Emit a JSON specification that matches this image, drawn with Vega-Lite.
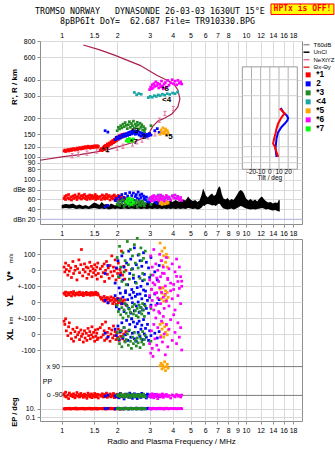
{
"$schema":"https://vega.github.io/schema/vega-lite/v6.json",
"background":"#ffffff",
"padding":{"left":5,"top":2,"right":0,"bottom":2},
"config":{
 "font":"Liberation Sans",
 "view":{"stroke":"#8c8c8c","strokeWidth":1},
 "axis":{"labelFont":"Liberation Sans","labelFontSize":7,"labelColor":"#000000","gridColor":"#dadada","gridWidth":1,"domain":false,"tickColor":"#8c8c8c","tickSize":3,"labelPadding":2,"titleFont":"Liberation Sans","titleColor":"#000000","labelOverlap":false,"labelFlush":false,"labelBound":false},
 "legend":{"labelFont":"Liberation Sans","labelColor":"#000000"},
 "square":{"size":7.5,"opacity":1}
},
"datasets":{
"prof":[{"f":0.763,"h":94},{"f":1.0,"h":100},{"f":1.257,"h":104},{"f":1.516,"h":109},{"f":1.829,"h":115},{"f":2.125,"h":122},{"f":2.5,"h":131},{"f":2.83,"h":143},{"f":3.0,"h":156},{"f":3.13,"h":174},{"f":3.33,"h":190},{"f":3.63,"h":201},{"f":3.96,"h":216},{"f":4.27,"h":245},{"f":4.38,"h":283},{"f":4.27,"h":333},{"f":4.12,"h":360},{"f":3.9,"h":384},{"f":3.28,"h":433},{"f":2.66,"h":518},{"f":1.95,"h":620},{"f":1.61,"h":684},{"f":1.31,"h":746}],
"nxt":[{"n":"NeXtYZ","f":1.14,"h":102},{"n":"NeXtYZ","f":1.23,"h":105},{"n":"NeXtYZ","f":1.37,"h":107},{"n":"NeXtYZ","f":1.55,"h":111},{"n":"NeXtYZ","f":1.78,"h":113},{"n":"NeXtYZ","f":2.0,"h":117},{"n":"NeXtYZ","f":2.15,"h":121},{"n":"NeXtYZ","f":2.42,"h":126},{"n":"NeXtYZ","f":2.56,"h":131},{"n":"NeXtYZ","f":2.73,"h":135},{"n":"NeXtYZ","f":2.94,"h":143},{"n":"NeXtYZ","f":3.21,"h":151},{"n":"NeXtYZ","f":3.39,"h":193},{"n":"NeXtYZ","f":3.63,"h":218},{"n":"NeXtYZ","f":4.03,"h":238}],
"tx":[{"t":9.1,"h":100},{"t":7.3,"h":109},{"t":5.5,"h":120},{"t":3.6,"h":127},{"t":4.7,"h":139},{"t":6.2,"h":152},{"t":7.3,"h":166},{"t":9.1,"h":182},{"t":12.0,"h":199},{"t":14.5,"h":211},{"t":16.4,"h":217},{"t":12.8,"h":231},{"t":10.9,"h":238}],
"ty":[{"t":7.3,"h":100},{"t":6.2,"h":116},{"t":7.3,"h":139},{"t":9.1,"h":156},{"t":12.8,"h":171},{"t":16.4,"h":182},{"t":19.3,"h":193},{"t":20.0,"h":201},{"t":18.3,"h":211},{"t":14.5,"h":224},{"t":12.8,"h":235},{"t":12.0,"h":241}],
"lab":[{"t":"*1","f":1.65,"h":114},{"t":"2","f":2.73,"h":143},{"t":"*3","f":2.38,"h":158},{"t":"<4","f":3.5,"h":280},{"t":"*5","f":3.64,"h":142},{"t":"*6","f":3.48,"h":337},{"t":"*7","f":2.35,"h":130}],
"head":[{"t":"TROMSO NORWAY\u00a0\u00a0\u00a0DYNASONDE 26-03-03 1630UT 15°E","f":3.013,"h":1339},{"t":"8pBP6It DoY=\u00a0\u00a062.687 File= TR910330.BPG","f":3.31,"h":1133}],
"hpbox":[{"f":13.66,"f2":30,"h":1292,"h2":1560}],
"hptxt":[{"t":"HPTx is OFF!","f":20.26,"h":1418}],
"side1":[{"t":"V*","f":0.524,"v":-36},{"t":"YL","f":0.524,"v":-192},{"t":"XL","f":0.524,"v":-401}],
"side2":[{"t":"m/s","f":0.534,"v":74},{"t":"km","f":0.534,"v":-314}],
"side3":[{"t":"EP / deg","f":0.558,"v":-886}],
"ppl":[{"t":"x 90","f":0.829,"pp":90},{"t":"o -90","f":0.829,"pp":-90},{"t":"PP","f":0.789,"pp":-6}],
"pprule":[{"f":1.0,"f2":20.13,"pp":90},{"f":1.0,"f2":20.13,"pp":-90}],
"band":[{"f":1.0,"lo":42,"hi":49},{"f":1.05,"lo":43,"hi":51},{"f":1.1,"lo":42,"hi":50},{"f":1.15,"lo":43,"hi":52},{"f":1.2,"lo":41,"hi":48},{"f":1.25,"lo":42,"hi":50},{"f":1.3,"lo":41,"hi":47},{"f":1.35,"lo":42,"hi":49},{"f":1.4,"lo":41,"hi":46},{"f":1.45,"lo":42,"hi":50},{"f":1.5,"lo":43,"hi":54},{"f":1.55,"lo":42,"hi":52},{"f":1.6,"lo":41,"hi":49},{"f":1.65,"lo":42,"hi":55},{"f":1.7,"lo":41,"hi":50},{"f":1.75,"lo":42,"hi":51},{"f":1.8,"lo":40,"hi":47},{"f":1.85,"lo":41,"hi":52},{"f":1.9,"lo":42,"hi":50},{"f":1.95,"lo":41,"hi":48},{"f":2.0,"lo":42,"hi":51},{"f":2.1,"lo":41,"hi":53},{"f":2.2,"lo":42,"hi":50},{"f":2.3,"lo":41,"hi":52},{"f":2.4,"lo":42,"hi":55},{"f":2.5,"lo":41,"hi":50},{"f":2.6,"lo":42,"hi":53},{"f":2.7,"lo":41,"hi":56},{"f":2.8,"lo":42,"hi":52},{"f":2.9,"lo":41,"hi":54},{"f":3.0,"lo":42,"hi":56},{"f":3.1,"lo":41,"hi":52},{"f":3.2,"lo":42,"hi":55},{"f":3.3,"lo":41,"hi":58},{"f":3.4,"lo":42,"hi":54},{"f":3.5,"lo":41,"hi":57},{"f":3.6,"lo":42,"hi":55},{"f":3.7,"lo":41,"hi":59},{"f":3.8,"lo":42,"hi":56},{"f":3.9,"lo":41,"hi":58},{"f":4.0,"lo":42,"hi":55},{"f":4.15,"lo":41,"hi":59},{"f":4.3,"lo":42,"hi":56},{"f":4.4,"lo":41,"hi":56},{"f":4.55,"lo":42,"hi":60},{"f":4.7,"lo":41,"hi":58},{"f":4.85,"lo":43,"hi":66},{"f":5.0,"lo":42,"hi":60},{"f":5.15,"lo":41,"hi":57},{"f":5.3,"lo":42,"hi":59},{"f":5.45,"lo":40,"hi":55},{"f":5.6,"lo":41,"hi":58},{"f":5.75,"lo":44,"hi":70},{"f":5.85,"lo":48,"hi":82},{"f":5.95,"lo":47,"hi":76},{"f":6.06,"lo":50,"hi":68},{"f":6.2,"lo":51,"hi":64},{"f":6.38,"lo":50,"hi":69},{"f":6.55,"lo":48,"hi":72},{"f":6.7,"lo":49,"hi":67},{"f":6.86,"lo":47,"hi":70},{"f":7.0,"lo":50,"hi":80},{"f":7.15,"lo":52,"hi":87},{"f":7.25,"lo":50,"hi":84},{"f":7.4,"lo":45,"hi":70},{"f":7.55,"lo":42,"hi":62},{"f":7.75,"lo":41,"hi":60},{"f":7.95,"lo":40,"hi":63},{"f":8.15,"lo":41,"hi":58},{"f":8.35,"lo":42,"hi":61},{"f":8.55,"lo":40,"hi":59},{"f":8.75,"lo":41,"hi":64},{"f":8.95,"lo":43,"hi":70},{"f":9.15,"lo":45,"hi":76},{"f":9.35,"lo":47,"hi":79},{"f":9.55,"lo":46,"hi":77},{"f":9.75,"lo":44,"hi":72},{"f":10.0,"lo":42,"hi":62},{"f":10.3,"lo":41,"hi":58},{"f":10.6,"lo":40,"hi":61},{"f":10.9,"lo":41,"hi":57},{"f":11.2,"lo":40,"hi":60},{"f":11.5,"lo":41,"hi":56},{"f":11.9,"lo":42,"hi":63},{"f":12.2,"lo":43,"hi":66},{"f":12.5,"lo":42,"hi":61},{"f":12.8,"lo":40,"hi":57},{"f":13.2,"lo":41,"hi":54},{"f":13.6,"lo":39,"hi":55},{"f":14.0,"lo":38,"hi":52},{"f":14.4,"lo":39,"hi":54},{"f":14.8,"lo":37,"hi":53},{"f":15.1,"lo":36,"hi":60},{"f":15.25,"lo":36,"hi":58}],
"echo":[
{"c":"1","f":1.03,"h":111,"a":62,"v":20,"yl":55,"xl":80,"pp":-80,"ep":9},
{"c":"1","f":1.04,"h":113,"a":66,"v":-10,"yl":48,"xl":60,"pp":-95,"ep":11},
{"c":"1","f":1.05,"h":110,"a":60,"v":45,"yl":62,"xl":95,"pp":-70,"ep":8},
{"c":"1","f":1.06,"h":112,"a":68,"v":5,"yl":40,"xl":20,"pp":-100,"ep":12},
{"c":"1","f":1.08,"h":114,"a":63,"v":-30,"yl":58,"xl":-10,"pp":-88,"ep":10},
{"c":"1","f":1.09,"h":111,"a":70,"v":30,"yl":45,"xl":45,"pp":-110,"ep":9},
{"c":"1","f":1.10,"h":113,"a":61,"v":-5,"yl":52,"xl":70,"pp":-75,"ep":13},
{"c":"1","f":1.12,"h":115,"a":65,"v":15,"yl":60,"xl":5,"pp":-92,"ep":8},
{"c":"1","f":1.13,"h":112,"a":59,"v":-45,"yl":38,"xl":-30,"pp":-85,"ep":11},
{"c":"1","f":1.15,"h":114,"a":67,"v":55,"yl":50,"xl":30,"pp":-98,"ep":10},
{"c":"1","f":1.16,"h":116,"a":62,"v":-20,"yl":65,"xl":-45,"pp":-80,"ep":12},
{"c":"1","f":1.18,"h":113,"a":69,"v":0,"yl":42,"xl":15,"pp":-105,"ep":9},
{"c":"1","f":1.19,"h":115,"a":64,"v":25,"yl":55,"xl":-20,"pp":-90,"ep":14},
{"c":"1","f":1.21,"h":117,"a":60,"v":-60,"yl":48,"xl":40,"pp":-72,"ep":8},
{"c":"1","f":1.22,"h":114,"a":66,"v":10,"yl":57,"xl":-5,"pp":-95,"ep":11},
{"c":"1","f":1.24,"h":116,"a":71,"v":65,"yl":44,"xl":10,"pp":-85,"ep":10},
{"c":"1","f":1.25,"h":118,"a":63,"v":-15,"yl":62,"xl":-35,"pp":-100,"ep":9},
{"c":"1","f":1.27,"h":115,"a":67,"v":35,"yl":50,"xl":25,"pp":-78,"ep":12},
{"c":"1","f":1.28,"h":117,"a":61,"v":130,"yl":46,"xl":-15,"pp":-93,"ep":10},
{"c":"1","f":1.30,"h":119,"a":68,"v":-35,"yl":58,"xl":0,"pp":-88,"ep":13},
{"c":"1","f":1.31,"h":116,"a":64,"v":5,"yl":40,"xl":-50,"pp":-102,"ep":9},
{"c":"1","f":1.33,"h":118,"a":70,"v":40,"yl":54,"xl":20,"pp":-82,"ep":11},
{"c":"1","f":1.34,"h":120,"a":62,"v":-10,"yl":49,"xl":-25,"pp":-96,"ep":8},
{"c":"1","f":1.36,"h":117,"a":66,"v":20,"yl":60,"xl":5,"pp":-90,"ep":10},
{"c":"1","f":1.37,"h":119,"a":60,"v":-50,"yl":45,"xl":-40,"pp":-108,"ep":12},
{"c":"1","f":1.39,"h":121,"a":67,"v":15,"yl":53,"xl":35,"pp":-76,"ep":9},
{"c":"1","f":1.40,"h":118,"a":63,"v":-25,"yl":47,"xl":-10,"pp":-94,"ep":11},
{"c":"1","f":1.42,"h":120,"a":69,"v":50,"yl":56,"xl":15,"pp":-86,"ep":13},
{"c":"1","f":1.43,"h":117,"a":61,"v":-5,"yl":42,"xl":-30,"pp":-99,"ep":10},
{"c":"1","f":1.45,"h":119,"a":65,"v":25,"yl":59,"xl":-5,"pp":-81,"ep":8},
{"c":"1","f":1.46,"h":121,"a":68,"v":-40,"yl":51,"xl":45,"pp":-104,"ep":12},
{"c":"1","f":1.48,"h":118,"a":62,"v":10,"yl":44,"xl":-20,"pp":-89,"ep":9},
{"c":"1","f":1.49,"h":120,"a":66,"v":-15,"yl":57,"xl":10,"pp":-95,"ep":11},
{"c":"1","f":1.51,"h":122,"a":64,"v":35,"yl":48,"xl":-45,"pp":-78,"ep":10},
{"c":"1","f":1.52,"h":119,"a":70,"v":0,"yl":53,"xl":25,"pp":-100,"ep":13},
{"c":"1","f":1.53,"h":121,"a":60,"v":-30,"yl":61,"xl":-15,"pp":-91,"ep":9},
{"c":"1","f":1.55,"h":120,"a":67,"v":20,"yl":46,"xl":5,"pp":-85,"ep":12},
{"c":"1","f":1.56,"h":122,"a":63,"v":-55,"yl":55,"xl":-35,"pp":-97,"ep":10},
{"c":"1","f":1.57,"h":119,"a":65,"v":45,"yl":50,"xl":30,"pp":-83,"ep":8},
{"c":"1","f":1.58,"h":121,"a":62,"v":-20,"yl":43,"xl":-25,"pp":-106,"ep":11},
{"c":"1","f":1.62,"h":113,"a":66,"v":10,"yl":30,"xl":40,"pp":-88,"ep":10},
{"c":"1","f":1.64,"h":116,"a":60,"v":-40,"yl":18,"xl":-20,"pp":-95,"ep":12},
{"c":"1","f":1.66,"h":112,"a":69,"v":25,"yl":25,"xl":60,"pp":-80,"ep":9},
{"c":"1","f":1.68,"h":118,"a":63,"v":-15,"yl":10,"xl":-5,"pp":-100,"ep":11},
{"c":"1","f":1.70,"h":121,"a":67,"v":40,"yl":35,"xl":20,"pp":-92,"ep":13},
{"c":"1","f":1.71,"h":115,"a":61,"v":-70,"yl":5,"xl":-40,"pp":-84,"ep":10},
{"c":"1","f":1.73,"h":123,"a":64,"v":0,"yl":22,"xl":75,"pp":-97,"ep":8},
{"c":"1","f":1.75,"h":119,"a":70,"v":55,"yl":15,"xl":-30,"pp":-76,"ep":12},
{"c":"1","f":1.77,"h":126,"a":62,"v":-25,"yl":28,"xl":10,"pp":-102,"ep":9},
{"c":"1","f":1.79,"h":121,"a":66,"v":15,"yl":-5,"xl":-15,"pp":-89,"ep":11},
{"c":"1","f":1.81,"h":128,"a":68,"v":-50,"yl":20,"xl":35,"pp":-94,"ep":10},
{"c":"1","f":1.83,"h":124,"a":59,"v":30,"yl":8,"xl":-45,"pp":-81,"ep":13},
{"c":"1","f":1.85,"h":131,"a":65,"v":-10,"yl":32,"xl":0,"pp":-99,"ep":9},
{"c":"1","f":1.87,"h":126,"a":63,"v":90,"yl":12,"xl":25,"pp":-87,"ep":12},
{"c":"1","f":1.89,"h":134,"a":67,"v":-35,"yl":-10,"xl":-25,"pp":-93,"ep":10},
{"c":"1","f":1.91,"h":129,"a":61,"v":20,"yl":25,"xl":50,"pp":-78,"ep":11},
{"c":"1","f":1.93,"h":137,"a":69,"v":-5,"yl":2,"xl":-10,"pp":-104,"ep":8},
{"c":"1","f":1.95,"h":131,"a":64,"v":65,"yl":18,"xl":15,"pp":-90,"ep":12},
{"c":"1","f":1.97,"h":140,"a":58,"v":-60,"yl":-15,"xl":-35,"pp":-86,"ep":9},
{"c":"1","f":1.99,"h":134,"a":66,"v":10,"yl":10,"xl":5,"pp":-96,"ep":11},
{"c":"1","f":2.01,"h":143,"a":62,"v":-20,"yl":22,"xl":-20,"pp":-83,"ep":10},
{"c":"1","f":2.03,"h":137,"a":68,"v":45,"yl":-5,"xl":30,"pp":-101,"ep":13},
{"c":"1","f":2.05,"h":146,"a":60,"v":-45,"yl":15,"xl":-40,"pp":-88,"ep":9},
{"c":"1","f":2.07,"h":140,"a":65,"v":5,"yl":0,"xl":10,"pp":-95,"ep":12},
{"c":"1","f":2.09,"h":148,"a":63,"v":-15,"yl":20,"xl":-15,"pp":-80,"ep":10},
{"c":"1","f":2.11,"h":142,"a":67,"v":120,"yl":-12,"xl":20,"pp":-92,"ep":11},
{"c":"1","f":2.14,"h":150,"a":61,"v":-30,"yl":8,"xl":-30,"pp":-99,"ep":8},
{"c":"1","f":2.17,"h":145,"a":64,"v":25,"yl":-8,"xl":0,"pp":-86,"ep":12},
{"c":"1","f":2.20,"h":151,"a":59,"v":-55,"yl":12,"xl":-45,"pp":-94,"ep":10},
{"c":"1","f":2.23,"h":147,"a":62,"v":0,"yl":-18,"xl":15,"pp":-90,"ep":11},
{"c":"2","f":1.72,"h":160,"a":45,"v":-20,"yl":10,"xl":5,"pp":-95,"ep":10},
{"c":"2","f":1.78,"h":156,"a":48,"v":30,"yl":-5,"xl":-20,"pp":-88,"ep":12},
{"c":"2","f":1.95,"h":136,"a":58,"v":-80,"yl":40,"xl":30,"pp":-92,"ep":9},
{"c":"2","f":1.98,"h":142,"a":62,"v":15,"yl":-30,"xl":-10,"pp":-100,"ep":11},
{"c":"2","f":2.02,"h":138,"a":55,"v":60,"yl":20,"xl":50,"pp":-85,"ep":13},
{"c":"2","f":2.05,"h":145,"a":66,"v":-110,"yl":-45,"xl":-35,"pp":-105,"ep":10},
{"c":"2","f":2.08,"h":140,"a":60,"v":-30,"yl":55,"xl":15,"pp":-78,"ep":8},
{"c":"2","f":2.12,"h":148,"a":70,"v":90,"yl":-10,"xl":70,"pp":-96,"ep":12},
{"c":"2","f":2.15,"h":143,"a":57,"v":-60,"yl":30,"xl":-25,"pp":-90,"ep":11},
{"c":"2","f":2.18,"h":150,"a":64,"v":20,"yl":-60,"xl":40,"pp":-112,"ep":9},
{"c":"2","f":2.22,"h":145,"a":72,"v":-140,"yl":70,"xl":-5,"pp":-82,"ep":14},
{"c":"2","f":2.25,"h":152,"a":59,"v":45,"yl":-20,"xl":85,"pp":-97,"ep":10},
{"c":"2","f":2.28,"h":147,"a":67,"v":-90,"yl":15,"xl":-40,"pp":-88,"ep":12},
{"c":"2","f":2.31,"h":155,"a":62,"v":120,"yl":-40,"xl":20,"pp":-102,"ep":8},
{"c":"2","f":2.34,"h":149,"a":74,"v":-20,"yl":45,"xl":60,"pp":-76,"ep":11},
{"c":"2","f":2.37,"h":157,"a":56,"v":70,"yl":-70,"xl":-20,"pp":-94,"ep":13},
{"c":"2","f":2.40,"h":151,"a":68,"v":-120,"yl":25,"xl":95,"pp":-85,"ep":10},
{"c":"2","f":2.42,"h":158,"a":61,"v":10,"yl":-5,"xl":5,"pp":-108,"ep":9},
{"c":"2","f":2.45,"h":153,"a":73,"v":-50,"yl":60,"xl":75,"pp":-91,"ep":12},
{"c":"2","f":2.48,"h":159,"a":58,"v":140,"yl":-55,"xl":-30,"pp":-80,"ep":11},
{"c":"2","f":2.51,"h":150,"a":66,"v":-75,"yl":35,"xl":45,"pp":-99,"ep":10},
{"c":"2","f":2.54,"h":156,"a":70,"v":35,"yl":-25,"xl":-45,"pp":-87,"ep":14},
{"c":"2","f":2.57,"h":152,"a":63,"v":-150,"yl":90,"xl":65,"pp":-110,"ep":9},
{"c":"2","f":2.60,"h":160,"a":75,"v":95,"yl":0,"xl":10,"pp":-84,"ep":12},
{"c":"2","f":2.63,"h":148,"a":60,"v":-40,"yl":-65,"xl":80,"pp":-96,"ep":11},
{"c":"2","f":2.66,"h":155,"a":69,"v":60,"yl":50,"xl":-15,"pp":-89,"ep":10},
{"c":"2","f":2.69,"h":145,"a":64,"v":-100,"yl":-35,"xl":30,"pp":-103,"ep":13},
{"c":"2","f":2.72,"h":153,"a":71,"v":25,"yl":20,"xl":55,"pp":-77,"ep":8},
{"c":"2","f":2.75,"h":149,"a":57,"v":-65,"yl":-50,"xl":-35,"pp":-93,"ep":12},
{"c":"2","f":2.78,"h":146,"a":67,"v":110,"yl":75,"xl":90,"pp":-86,"ep":10},
{"c":"2","f":2.81,"h":152,"a":62,"v":-25,"yl":-15,"xl":0,"pp":-98,"ep":11},
{"c":"2","f":2.85,"h":148,"a":59,"v":-130,"yl":40,"xl":35,"pp":-90,"ep":9},
{"c":"2","f":2.88,"h":144,"a":65,"v":50,"yl":-40,"xl":-20,"pp":-106,"ep":12},
{"c":"2","f":2.92,"h":150,"a":56,"v":-85,"yl":10,"xl":60,"pp":-82,"ep":10},
{"c":"2","f":2.96,"h":146,"a":61,"v":15,"yl":-70,"xl":-40,"pp":-95,"ep":13},
{"c":"2","f":3.00,"h":152,"a":54,"v":-45,"yl":30,"xl":20,"pp":-88,"ep":11},
{"c":"2","f":3.05,"h":148,"a":58,"v":80,"yl":-20,"xl":-10,"pp":-100,"ep":9},
{"c":"2","f":3.20,"h":160,"a":55,"v":-10,"yl":50,"xl":5,"pp":-85,"ep":12},
{"c":"2","f":3.30,"h":166,"a":52,"v":-60,"yl":-10,"xl":-25,"pp":-92,"ep":10},
{"c":"2","f":3.38,"h":155,"a":53,"v":30,"yl":15,"xl":15,"pp":-97,"ep":11},
{"c":"3","f":2.00,"h":160,"a":50,"v":80,"yl":-20,"xl":10,"pp":-90,"ep":10},
{"c":"3","f":2.03,"h":170,"a":55,"v":-40,"yl":-60,"xl":-30,"pp":-85,"ep":11},
{"c":"3","f":2.06,"h":165,"a":48,"v":150,"yl":10,"xl":-60,"pp":-98,"ep":9},
{"c":"3","f":2.09,"h":175,"a":57,"v":20,"yl":-80,"xl":20,"pp":-80,"ep":12},
{"c":"3","f":2.12,"h":168,"a":52,"v":-70,"yl":-35,"xl":-80,"pp":-95,"ep":10},
{"c":"3","f":2.15,"h":180,"a":59,"v":110,"yl":-100,"xl":-15,"pp":-88,"ep":13},
{"c":"3","f":2.18,"h":172,"a":46,"v":-10,"yl":-50,"xl":40,"pp":-102,"ep":9},
{"c":"3","f":2.21,"h":185,"a":54,"v":60,"yl":-10,"xl":-50,"pp":-84,"ep":11},
{"c":"3","f":2.24,"h":176,"a":50,"v":-90,"yl":-70,"xl":-35,"pp":-93,"ep":10},
{"c":"3","f":2.27,"h":166,"a":58,"v":180,"yl":-25,"xl":0,"pp":-97,"ep":12},
{"c":"3","f":2.30,"h":178,"a":53,"v":35,"yl":-90,"xl":-70,"pp":-81,"ep":8},
{"c":"3","f":2.33,"h":188,"a":47,"v":-55,"yl":-45,"xl":25,"pp":-90,"ep":11},
{"c":"3","f":2.36,"h":170,"a":56,"v":130,"yl":-65,"xl":-45,"pp":-104,"ep":10},
{"c":"3","f":2.39,"h":182,"a":51,"v":5,"yl":-105,"xl":-90,"pp":-87,"ep":13},
{"c":"3","f":2.42,"h":175,"a":60,"v":90,"yl":-30,"xl":-20,"pp":-95,"ep":9},
{"c":"3","f":2.45,"h":190,"a":49,"v":-30,"yl":-75,"xl":-60,"pp":-83,"ep":12},
{"c":"3","f":2.48,"h":168,"a":55,"v":160,"yl":-15,"xl":10,"pp":-99,"ep":10},
{"c":"3","f":2.51,"h":180,"a":52,"v":45,"yl":-55,"xl":-40,"pp":-91,"ep":11},
{"c":"3","f":2.54,"h":173,"a":58,"v":-80,"yl":-85,"xl":-75,"pp":-86,"ep":8},
{"c":"3","f":2.57,"h":186,"a":46,"v":200,"yl":-40,"xl":-25,"pp":-96,"ep":13},
{"c":"3","f":2.60,"h":177,"a":54,"v":15,"yl":-95,"xl":-55,"pp":-89,"ep":10},
{"c":"3","f":2.63,"h":165,"a":50,"v":100,"yl":-20,"xl":-5,"pp":-101,"ep":12},
{"c":"3","f":2.66,"h":183,"a":57,"v":-50,"yl":-60,"xl":-85,"pp":-84,"ep":9},
{"c":"3","f":2.69,"h":170,"a":48,"v":140,"yl":-35,"xl":-30,"pp":-94,"ep":11},
{"c":"3","f":2.72,"h":178,"a":53,"v":60,"yl":-75,"xl":-50,"pp":-88,"ep":10},
{"c":"3","f":2.75,"h":162,"a":56,"v":-20,"yl":-10,"xl":15,"pp":-97,"ep":13},
{"c":"3","f":2.78,"h":172,"a":51,"v":75,"yl":-50,"xl":-65,"pp":-82,"ep":9},
{"c":"3","f":2.81,"h":158,"a":47,"v":-60,"yl":-90,"xl":-35,"pp":-92,"ep":11},
{"c":"3","f":2.84,"h":166,"a":52,"v":120,"yl":-25,"xl":-10,"pp":-100,"ep":10},
{"c":"3","f":3.05,"h":175,"a":50,"v":-30,"yl":-40,"xl":-45,"pp":-90,"ep":12},
{"c":"4","f":2.48,"h":318},{"c":"4","f":2.55,"h":305},{"c":"4","f":2.62,"h":312},{"c":"4","f":2.70,"h":308},
{"c":"4","f":2.95,"h":290,"a":60},{"c":"4","f":3.02,"h":296,"a":63},{"c":"4","f":3.10,"h":292,"a":58},{"c":"4","f":3.18,"h":300,"a":66},{"c":"4","f":3.26,"h":296,"a":61},{"c":"4","f":3.34,"h":304,"a":69},{"c":"4","f":3.42,"h":300,"a":64},{"c":"4","f":3.52,"h":308,"a":67},{"c":"4","f":3.62,"h":303,"a":60},{"c":"4","f":3.74,"h":311,"a":65},{"c":"4","f":3.86,"h":307,"a":62},{"c":"4","f":4.00,"h":315,"a":68},{"c":"4","f":4.12,"h":311,"a":63},{"c":"4","f":4.25,"h":320,"a":66},
{"c":"5","f":3.42,"h":150,"a":52,"v":170,"yl":80,"xl":60,"pp":95,"ep":12},
{"c":"5","f":3.46,"h":162,"a":54,"v":60,"yl":20,"xl":-10,"pp":110,"ep":11},
{"c":"5","f":3.50,"h":155,"a":50,"v":120,"yl":55,"xl":30,"pp":75,"ep":13},
{"c":"5","f":3.54,"h":168,"a":55,"v":30,"yl":90,"xl":70,"pp":100,"ep":10},
{"c":"5","f":3.58,"h":152,"a":53,"v":90,"yl":5,"xl":-20,"pp":85,"ep":12},
{"c":"5","f":3.62,"h":158,"a":51,"v":140,"yl":40,"xl":45,"pp":120,"ep":11},
{"c":"5","f":3.66,"h":165,"a":56,"v":50,"yl":70,"xl":10,"pp":65,"ep":12},
{"c":"5","f":3.70,"h":150,"a":52,"v":100,"yl":15,"xl":55,"pp":90,"ep":13},
{"c":"5","f":3.74,"h":160,"a":54,"v":20,"yl":60,"xl":-5,"pp":105,"ep":10},
{"c":"5","f":3.78,"h":154,"a":53,"v":80,"yl":30,"xl":25,"pp":80,"ep":12},
{"c":"6","f":3.00,"h":335,"a":60,"v":-60,"yl":40,"xl":-60,"pp":-95,"ep":10},
{"c":"6","f":3.04,"h":350,"a":64,"v":90,"yl":-30,"xl":-120,"pp":-85,"ep":12},
{"c":"6","f":3.07,"h":340,"a":57,"v":-120,"yl":80,"xl":20,"pp":-100,"ep":9},
{"c":"6","f":3.10,"h":365,"a":66,"v":20,"yl":10,"xl":-90,"pp":-80,"ep":11},
{"c":"6","f":3.13,"h":345,"a":62,"v":-30,"yl":120,"xl":-140,"pp":-92,"ep":13},
{"c":"6","f":3.16,"h":372,"a":68,"v":130,"yl":-50,"xl":60,"pp":-105,"ep":10},
{"c":"6","f":3.20,"h":355,"a":59,"v":-90,"yl":55,"xl":-30,"pp":-88,"ep":12},
{"c":"6","f":3.24,"h":385,"a":65,"v":40,"yl":-20,"xl":100,"pp":-97,"ep":9},
{"c":"6","f":3.28,"h":360,"a":61,"v":-140,"yl":150,"xl":-70,"pp":-83,"ep":11},
{"c":"6","f":3.32,"h":375,"a":67,"v":0,"yl":25,"xl":40,"pp":-110,"ep":10},
{"c":"6","f":3.36,"h":345,"a":58,"v":-70,"yl":-60,"xl":-100,"pp":-90,"ep":12},
{"c":"6","f":3.40,"h":368,"a":63,"v":100,"yl":90,"xl":130,"pp":-86,"ep":13},
{"c":"6","f":3.44,"h":352,"a":69,"v":-40,"yl":-10,"xl":-20,"pp":-99,"ep":9},
{"c":"6","f":3.48,"h":390,"a":60,"v":60,"yl":60,"xl":80,"pp":-93,"ep":11},
{"c":"6","f":3.52,"h":358,"a":66,"v":-110,"yl":180,"xl":-50,"pp":-81,"ep":10},
{"c":"6","f":3.56,"h":340,"a":62,"v":20,"yl":30,"xl":110,"pp":-102,"ep":12},
{"c":"6","f":3.60,"h":370,"a":57,"v":-20,"yl":-40,"xl":0,"pp":-88,"ep":8},
{"c":"6","f":3.65,"h":380,"a":64,"v":-150,"yl":100,"xl":-130,"pp":-95,"ep":11},
{"c":"6","f":3.70,"h":350,"a":68,"v":80,"yl":5,"xl":60,"pp":-84,"ep":13},
{"c":"6","f":3.76,"h":395,"a":61,"v":-50,"yl":140,"xl":-80,"pp":-97,"ep":10},
{"c":"6","f":3.82,"h":362,"a":65,"v":10,"yl":-25,"xl":30,"pp":-91,"ep":9},
{"c":"6","f":3.90,"h":378,"a":59,"v":-80,"yl":70,"xl":90,"pp":-106,"ep":12},
{"c":"6","f":3.98,"h":400,"a":67,"v":40,"yl":20,"xl":-40,"pp":-87,"ep":11},
{"c":"6","f":4.05,"h":372,"a":63,"v":-120,"yl":110,"xl":120,"pp":-93,"ep":10},
{"c":"6","f":4.12,"h":390,"a":69,"v":-10,"yl":-50,"xl":10,"pp":-99,"ep":12},
{"c":"6","f":4.20,"h":365,"a":62,"v":70,"yl":160,"xl":-60,"pp":-85,"ep":9},
{"c":"6","f":4.27,"h":395,"a":66,"v":-70,"yl":40,"xl":70,"pp":-95,"ep":11},
{"c":"6","f":4.35,"h":375,"a":60,"v":20,"yl":85,"xl":-20,"pp":-90,"ep":10},
{"c":"6","f":4.42,"h":385,"a":64,"v":-40,"yl":-10,"xl":40,"pp":-100,"ep":12},
{"c":"6","f":4.48,"h":370,"a":58,"v":-100,"yl":130,"xl":-100,"pp":-88,"ep":10},
{"c":"7","f":2.24,"h":133,"a":56},{"c":"7","f":2.27,"h":137,"a":61},{"c":"7","f":2.30,"h":131,"a":52},{"c":"7","f":2.33,"h":139,"a":63},{"c":"7","f":2.36,"h":134,"a":58},{"c":"7","f":2.39,"h":136,"a":50},{"c":"7","f":2.42,"h":132,"a":60},{"c":"7","f":2.45,"h":138,"a":54}
]
},
"bounds":"flush",
"spacing":15,
"vconcat":[
{
 "width":262,"height":183,
 "layer":[
  {
   "encoding":{
    "x":{"field":"f","type":"quantitative","scale":{"type":"log","domain":[0.7627,20.13]},"axis":{"orient":"top","values":[1,1.5,2,3,4,5,6,7,8,9,10,12,14,16,18],"labelExpr":"datum.value==9?'':format(datum.value,'~g')","tickSize":0,"labelPadding":3,"title":null,"grid":true}},
    "y":{"field":"h","type":"quantitative","scale":{"type":"log","domain":[29.9,802]},"axis":{"orient":"left","values":[80,90,100,120,150,200,300,400,600,800],"format":"~g","title":"R', R / km","titleX":-25.5,"titleY":45.5,"titleAngle":270,"titleAlign":"center","titleBaseline":"middle","titleFontSize":8,"titleFontWeight":"bold","grid":true}}
   },
   "layer":[
    {"data":{"name":"prof"},"mark":{"type":"line","color":"#a8204e","strokeWidth":1.2},"encoding":{"order":{"value":null}}},
    {"data":{"name":"nxt"},"mark":{"type":"point","shape":"M0,-1L0,1M-0.7,-1L0.7,-1M-0.7,1L0.7,1","size":18,"strokeWidth":1,"filled":false,"opacity":1},
     "encoding":{"stroke":{"field":"n","type":"nominal","scale":{"domain":["T60dB","UnCl","NeXtYZ","Θx-Θy"],"range":["#999999","#000000","#e8709a","#e83030"]},"legend":{"orient":"none","legendX":262.5,"legendY":-0.3,"title":null,"symbolType":"stroke","symbolSize":36,"symbolStrokeWidth":1.5,"labelFontSize":6,"rowPadding":0.5,"padding":0,"labelOffset":3}}}},
    {"data":{"name":"echo"},"mark":{"type":"square"},
     "encoding":{"color":{"field":"c","type":"nominal","scale":{"domain":["1","2","3","4","5","6","7"],"range":["#ff0000","#0000ff","#228b22","#1aa6a6","#ffa500","#ff00ff","#00ff00"]},"legend":{"orient":"none","legendX":264,"legendY":29.7,"title":null,"symbolType":"square","symbolSize":25,"labelFontSize":8.3,"labelFontWeight":"bold","rowPadding":0,"padding":0,"labelOffset":4,"labelExpr":"datum.value=='1'?'*1':datum.value=='2'?'\u00a0\u00a02':datum.value=='3'?'*3':datum.value=='4'?'<4':datum.value=='5'?'*5':datum.value=='6'?'*6':'*7'"}}}},
    {"data":{"name":"lab"},"mark":{"type":"text","align":"left","baseline":"middle","fontSize":8,"fontWeight":"bold","color":"#000000"},"encoding":{"text":{"field":"t"}}},
    {"data":{"name":"head"},"mark":{"type":"text","align":"center","baseline":"middle","font":"DejaVu Sans Mono","fontSize":8.3,"color":"#000000"},"encoding":{"text":{"field":"t"}}},
    {"data":{"name":"hpbox"},"mark":{"type":"rect","fill":"#ffff00","stroke":"#ff0000","strokeWidth":1},
     "encoding":{"x2":{"field":"f2"},"y2":{"field":"h2"}}},
    {"data":{"name":"hptxt"},"mark":{"type":"text","align":"center","baseline":"middle","font":"DejaVu Sans Mono","fontSize":8,"fontWeight":"bold","color":"#ff0000"},
     "encoding":{"text":{"field":"t"}}}
   ]
  },
  {
   "layer":[
    {"data":{"values":[{}]},"mark":{"type":"rect","fill":"#ffffff","stroke":"#9a9a9a","strokeWidth":1},
     "encoding":{"x":{"datum":-30,"type":"quantitative","scale":{"domain":[-250.7,35.1]},"axis":null},"x2":{"datum":30},"y":{"datum":80,"type":"quantitative","scale":{"type":"log","domain":[29.9,802]},"axis":null},"y2":{"datum":504}}},
    {"data":{"values":[{"t":-20},{"t":-10},{"t":0},{"t":10},{"t":20}]},"mark":{"type":"rule","color":"#b0b0b0"},
     "encoding":{"x":{"field":"t","type":"quantitative","scale":{"domain":[-250.7,35.1]},"axis":null},"y":{"datum":80,"type":"quantitative","scale":{"type":"log","domain":[29.9,802]},"axis":null},"y2":{"datum":504}}},
    {"data":{"values":[{"g":90},{"g":100},{"g":120},{"g":150},{"g":200},{"g":300},{"g":400}]},"mark":{"type":"rule","color":"#d0d0d0"},
     "encoding":{"x":{"datum":-30,"type":"quantitative","scale":{"domain":[-250.7,35.1]},"axis":null},"x2":{"datum":30},"y":{"field":"g","type":"quantitative","scale":{"type":"log","domain":[29.9,802]},"axis":null}}},
    {"data":{"name":"ty"},"mark":{"type":"line","color":"#0000ff","strokeWidth":2},
     "encoding":{"x":{"field":"t","type":"quantitative","scale":{"domain":[-250.7,35.1]},"axis":null},"y":{"field":"h","type":"quantitative","scale":{"type":"log","domain":[29.9,802]},"axis":null},"order":{"value":null}}},
    {"data":{"name":"tx"},"mark":{"type":"line","color":"#ff0000","strokeWidth":2},
     "encoding":{"x":{"field":"t","type":"quantitative","scale":{"domain":[-250.7,35.1]},"axis":null},"y":{"field":"h","type":"quantitative","scale":{"type":"log","domain":[29.9,802]},"axis":null},"order":{"value":null}}},
    {"data":{"values":[{"t":-20,"l":"-20"},{"t":-10,"l":"-10"},{"t":0,"l":"0"},{"t":10,"l":"10"},{"t":20,"l":"20"}]},"mark":{"type":"text","align":"center","baseline":"middle","fontSize":6.5,"color":"#000000"},
     "encoding":{"x":{"field":"t","type":"quantitative","scale":{"domain":[-250.7,35.1]},"axis":null},"y":{"datum":76.2,"type":"quantitative","scale":{"type":"log","domain":[29.9,802]},"axis":null},"text":{"field":"l"}}},
    {"data":{"values":[{}]},"mark":{"type":"text","align":"center","baseline":"middle","fontSize":6.5,"color":"#000000"},
     "encoding":{"x":{"datum":0,"type":"quantitative","scale":{"domain":[-250.7,35.1]},"axis":null},"y":{"datum":68.9,"type":"quantitative","scale":{"type":"log","domain":[29.9,802]},"axis":null},"text":{"value":"Tilt / deg"}}}
   ]
  },
  {
   "layer":[
    {"data":{"name":"band"},"mark":{"type":"area","color":"#000000","opacity":1},
     "encoding":{"x":{"field":"f","type":"quantitative","scale":{"type":"log","domain":[0.7627,20.13]},"axis":{"orient":"bottom","values":[1,1.5,2,3,4,5,6,7,8,9,10,12,14,16,18],"labelExpr":"format(datum.value,'~g')","title":null,"grid":false,"tickSize":3,"labelPadding":2}},
      "y":{"field":"lo","type":"quantitative","scale":{"domain":[10.5,380.2]},"axis":{"orient":"left","values":[20,40,60,80,100],"labelExpr":"datum.value==80?'dBe 80':datum.value==20?'dBn 20':datum.label","title":null,"grid":true}},"y2":{"field":"hi"}}},
    {"data":{"values":[{}]},"mark":{"type":"rule","color":"#b4b4e8","strokeWidth":1},"encoding":{"y":{"datum":20,"type":"quantitative","scale":{"domain":[10.5,380.2]}}}},
    {"data":{"name":"echo"},"mark":{"type":"square"},
     "encoding":{"x":{"field":"f","type":"quantitative","scale":{"type":"log","domain":[0.7627,20.13]}},"y":{"field":"a","type":"quantitative","scale":{"domain":[10.5,380.2]}},"color":{"field":"c","type":"nominal","scale":{"domain":["1","2","3","4","5","6","7"],"range":["#ff0000","#0000ff","#228b22","#1aa6a6","#ffa500","#ff00ff","#00ff00"]}}}}
   ]
  }
 ],
 "resolve":{"scale":{"x":"independent","y":"independent"}}
},
{
 "width":262,"height":182,
 "encoding":{"x":{"field":"f","type":"quantitative","scale":{"type":"log","domain":[0.7627,20.13]},"axis":{"orient":"bottom","values":[1,1.5,2,3,4,5,6,7,8,9,10,12,14,16,18],"labelExpr":"format(datum.value,'~g')","title":"Radio and Plasma Frequency / MHz","titleFontSize":8,"titleFontWeight":"normal","titlePadding":4,"grid":true,"tickSize":3,"labelPadding":2}}},
 "layer":[
  {"data":{"name":"echo"},"mark":{"type":"square"},
   "encoding":{"y":{"field":"v","type":"quantitative","scale":{"domain":[-941.9,195.6]},"axis":{"orient":"left","values":[100,0,-100,-200,-300,-400,-500,-866,-918],"labelExpr":"datum.value==100?'100':datum.value==0?'0':datum.value==-100?'+-100':datum.value==-200?'0':datum.value==-300?'+-100':datum.value==-400?'0':datum.value==-500?'-100':datum.value==-866?'10.':'0.1'","title":null,"grid":true}},
    "color":{"field":"c","type":"nominal","scale":{"domain":["1","2","3","4","5","6","7"],"range":["#ff0000","#0000ff","#228b22","#1aa6a6","#ffa500","#ff00ff","#00ff00"]}}}},
  {"data":{"name":"echo"},"mark":{"type":"square"},
   "encoding":{"y":{"field":"yl","type":"quantitative","scale":{"domain":[-743.75,393.75]},"axis":null},
    "color":{"field":"c","type":"nominal","scale":{"domain":["1","2","3","4","5","6","7"],"range":["#ff0000","#0000ff","#228b22","#1aa6a6","#ffa500","#ff00ff","#00ff00"]}}}},
  {"data":{"name":"echo"},"mark":{"type":"square"},
   "encoding":{"y":{"field":"xl","type":"quantitative","scale":{"domain":[-543.75,593.75]},"axis":null},
    "color":{"field":"c","type":"nominal","scale":{"domain":["1","2","3","4","5","6","7"],"range":["#ff0000","#0000ff","#228b22","#1aa6a6","#ffa500","#ff00ff","#00ff00"]}}}},
  {"layer":[
    {"data":{"name":"pprule"},"mark":{"type":"rule","color":"#7a7a7a","strokeWidth":1},
     "encoding":{"x2":{"field":"f2"},"y":{"field":"pp","type":"quantitative","scale":{"domain":[-250,887.5]},"axis":null}}},
    {"data":{"name":"ppl"},"mark":{"type":"text","align":"left","baseline":"middle","fontSize":7,"color":"#000000"},
     "encoding":{"y":{"field":"pp","type":"quantitative","scale":{"domain":[-250,887.5]},"axis":null},"text":{"field":"t"}}},
    {"data":{"name":"echo"},"mark":{"type":"square"},
     "encoding":{"y":{"field":"pp","type":"quantitative","scale":{"domain":[-250,887.5]},"axis":null},
      "color":{"field":"c","type":"nominal","scale":{"domain":["1","2","3","4","5","6","7"],"range":["#ff0000","#0000ff","#228b22","#1aa6a6","#ffa500","#ff00ff","#00ff00"]}}}}
  ]},
  {"data":{"name":"echo"},"mark":{"type":"square"},
   "encoding":{"y":{"field":"ep","type":"quantitative","scale":{"type":"log","domain":[0.01086,7.9e41]},"axis":null},
    "color":{"field":"c","type":"nominal","scale":{"domain":["1","2","3","4","5","6","7"],"range":["#ff0000","#0000ff","#228b22","#1aa6a6","#ffa500","#ff00ff","#00ff00"]}}}},
  {"layer":[
    {"data":{"name":"side1"},"mark":{"type":"text","angle":270,"align":"center","baseline":"middle","fontSize":9,"fontWeight":"bold","color":"#000000"},
     "encoding":{"y":{"field":"v","type":"quantitative","scale":{"domain":[-941.9,195.6]},"axis":null},"text":{"field":"t"}}},
    {"data":{"name":"side2"},"mark":{"type":"text","angle":270,"align":"center","baseline":"middle","fontSize":6,"color":"#000000"},
     "encoding":{"y":{"field":"v","type":"quantitative","scale":{"domain":[-941.9,195.6]},"axis":null},"text":{"field":"t"}}},
    {"data":{"name":"side3"},"mark":{"type":"text","angle":270,"align":"center","baseline":"middle","fontSize":7.5,"fontWeight":"bold","color":"#000000"},
     "encoding":{"y":{"field":"v","type":"quantitative","scale":{"domain":[-941.9,195.6]},"axis":null},"text":{"field":"t"}}}
  ]}
 ],
 "resolve":{"scale":{"y":"independent"}}
}
]
}
